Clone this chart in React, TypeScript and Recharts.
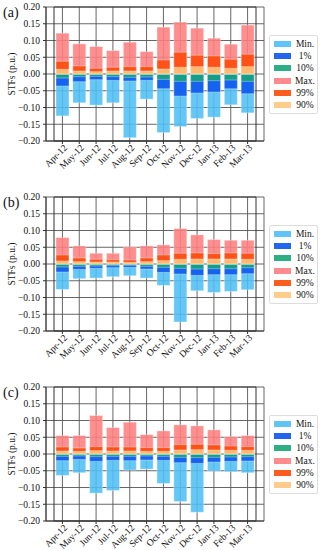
import { BarChart, Bar, XAxis, YAxis, CartesianGrid, ReferenceArea } from "recharts";

const months = ["Apr-12", "May-12", "Jun-12", "Jul-12", "Aug-12", "Sep-12", "Oct-12", "Nov-12", "Dec-12", "Jan-13", "Feb-13", "Mar-13"];
const yTicks = [0.2, 0.15, 0.1, 0.05, 0, -0.05, -0.1, -0.15, -0.2];

// panel (a)
const aMin = [-0.125, -0.086, -0.093, -0.086, -0.19, -0.075, -0.175, -0.157, -0.133, -0.129, -0.092, -0.116];
const aP1 = [-0.036, -0.023, -0.017, -0.019, -0.021, -0.019, -0.044, -0.066, -0.057, -0.054, -0.044, -0.059];
const aP10 = [-0.012, -0.008, -0.007, -0.008, -0.01, -0.009, -0.016, -0.022, -0.022, -0.02, -0.018, -0.022];
const aMax = [0.122, 0.09, 0.082, 0.07, 0.095, 0.067, 0.14, 0.155, 0.137, 0.107, 0.089, 0.146];
const aP99 = [0.038, 0.024, 0.017, 0.02, 0.022, 0.022, 0.042, 0.065, 0.056, 0.054, 0.044, 0.059];
const aP90 = [0.014, 0.009, 0.007, 0.009, 0.009, 0.009, 0.015, 0.02, 0.022, 0.02, 0.017, 0.022];

// panel (b)
const bMin = [-0.076, -0.044, -0.042, -0.038, -0.035, -0.042, -0.064, -0.173, -0.08, -0.085, -0.082, -0.077];
const bP1 = [-0.024, -0.016, -0.013, -0.011, -0.01, -0.015, -0.025, -0.03, -0.034, -0.032, -0.032, -0.029];
const bP10 = [-0.009, -0.007, -0.006, -0.005, -0.004, -0.007, -0.01, -0.013, -0.015, -0.014, -0.014, -0.011];
const bMax = [0.079, 0.054, 0.032, 0.032, 0.051, 0.054, 0.057, 0.106, 0.087, 0.073, 0.071, 0.071];
const bP99 = [0.027, 0.018, 0.014, 0.013, 0.012, 0.018, 0.027, 0.032, 0.033, 0.031, 0.033, 0.032];
const bP90 = [0.009, 0.007, 0.006, 0.006, 0.005, 0.007, 0.01, 0.014, 0.015, 0.015, 0.015, 0.014];

// panel (c)
const cMin = [-0.064, -0.056, -0.117, -0.109, -0.048, -0.045, -0.088, -0.142, -0.174, -0.051, -0.053, -0.056];
const cP1 = [-0.02, -0.016, -0.022, -0.019, -0.02, -0.018, -0.019, -0.026, -0.028, -0.024, -0.022, -0.021];
const cP10 = [-0.007, -0.006, -0.008, -0.007, -0.007, -0.006, -0.007, -0.01, -0.011, -0.01, -0.009, -0.008];
const cMax = [0.055, 0.055, 0.115, 0.079, 0.095, 0.058, 0.069, 0.087, 0.084, 0.072, 0.052, 0.055];
const cP99 = [0.021, 0.018, 0.022, 0.021, 0.021, 0.019, 0.019, 0.028, 0.029, 0.027, 0.024, 0.022];
const cP90 = [0.009, 0.008, 0.01, 0.009, 0.009, 0.008, 0.008, 0.012, 0.013, 0.012, 0.011, 0.011];

const series = [
  { key: "min", name: "Min.", color: "#4fbff5" },
  { key: "p1", name: "1%", color: "#0a55ee" },
  { key: "p10", name: "10%", color: "#16a578" },
  { key: "max", name: "Max.", color: "#ff7e80" },
  { key: "p99", name: "99%", color: "#ff4a08" },
  { key: "p90", name: "90%", color: "#ffc77e" },
];

const FONT = "'Liberation Serif', 'DejaVu Serif', serif";

function buildRows(mn: number[], p1: number[], p10: number[], mx: number[], p99: number[], p90: number[]) {
  return months.map((m, i) => ({ month: m, min: mn[i], p1: p1[i], p10: p10[i], max: mx[i], p99: p99[i], p90: p90[i] }));
}

const fmt = (v: number) => v.toFixed(2).replace("-", "\u2212");

function MonthTick(props: any) {
  const { x, y, payload } = props;
  return (
    <text
      x={x + 3}
      y={y}
      transform={`rotate(-45 ${x + 3} ${y})`}
      textAnchor="end"
      dy="0.35em"
      fontSize={9.5}
      fontFamily={FONT}
      fill="#111"
    >
      {payload.value}
    </text>
  );
}

function LegendBox() {
  return (
    <div
      style={{
        position: "absolute",
        left: 269,
        top: 35,
        width: 49,
        boxSizing: "border-box",
        border: "1px solid #ddd",
        borderRadius: 2,
        background: "#fff",
        padding: "2px 0",
        fontFamily: FONT,
        fontSize: 9.5,
        color: "#111",
      }}
    >
      {series.map((s) => (
        <div key={s.key} style={{ display: "flex", alignItems: "center", height: 12.2 }}>
          <div style={{ width: 17, height: 6, marginLeft: 4, background: s.color, opacity: 0.9 }} />
          <div style={{ flex: 1, textAlign: "center", paddingLeft: 2 }}>{s.name}</div>
        </div>
      ))}
    </div>
  );
}

function Panel({ label, data }: { label: string; data: any[] }) {
  return (
    <div style={{ position: "relative", width: 325, height: 190 }}>
      <BarChart
        width={325}
        height={190}
        data={data}
        margin={{ top: 7, right: 61, bottom: 0, left: 0 }}
        barSize={13}
        barGap={-13}
      >
        <CartesianGrid stroke="#555" strokeWidth={0.9} />
        <XAxis
          dataKey="month"
          interval={0}
          padding={{ left: 8, right: 8 }}
          tick={<MonthTick />}
          tickSize={3}
          tickMargin={2}
          height={49}
          axisLine={{ stroke: "#333" }}
          tickLine={{ stroke: "#333" }}
        />
        <YAxis
          width={46}
          domain={[-0.2, 0.2]}
          ticks={yTicks}
          interval={0}
          allowDataOverflow
          tickFormatter={fmt}
          tickSize={3}
          tickMargin={3}
          axisLine={{ stroke: "#333" }}
          tickLine={{ stroke: "#333" }}
          tick={{ fontSize: 9.5, fontFamily: FONT, fill: "#111" }}
          label={{
            value: "STFs (p.u.)",
            angle: -90,
            position: "insideLeft",
            offset: 12,
            style: { textAnchor: "middle", fontSize: 9.5, fontFamily: FONT, fill: "#111" },
          }}
        />
        <ReferenceArea y1={-0.2} y2={0.2} fill="none" stroke="#333" strokeWidth={1} ifOverflow="visible" />
        {series.map((s) => (
          <Bar
            key={s.key}
            dataKey={s.key}
            name={s.name}
            fill={s.color}
            fillOpacity={0.88}
            stroke="#fff"
            strokeOpacity={0.35}
            strokeWidth={1}
            isAnimationActive={false}
          />
        ))}
      </BarChart>
      <LegendBox />
      <div
        style={{
          position: "absolute",
          left: 3,
          top: 5,
          fontFamily: FONT,
          fontSize: 14,
          color: "#111",
        }}
      >
        {label}
      </div>
    </div>
  );
}

export default function App() {
  return (
    <div style={{ position: "absolute", left: 0, top: 0, width: 325, height: 550, background: "#fff" }}>
      <Panel label="(a)" data={buildRows(aMin, aP1, aP10, aMax, aP99, aP90)} />
      <Panel label="(b)" data={buildRows(bMin, bP1, bP10, bMax, bP99, bP90)} />
      <Panel label="(c)" data={buildRows(cMin, cP1, cP10, cMax, cP99, cP90)} />
    </div>
  );
}
